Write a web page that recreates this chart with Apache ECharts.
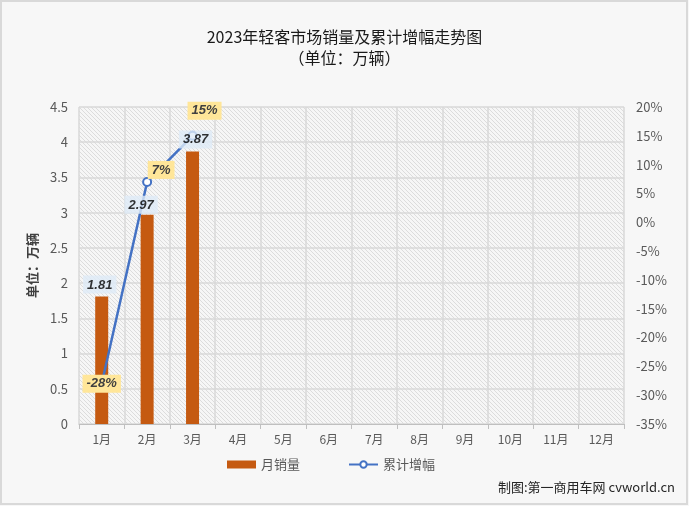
<!DOCTYPE html>
<html><head><meta charset="utf-8">
<script src="https://cdn.jsdelivr.net/npm/echarts@6/dist/echarts.min.js"></script>
<style>html,body{margin:0;padding:0;background:#fff;}#c{width:689px;height:506px;}</style>
</head><body><div id="c"></div>
<script>
var categories = ['1月','2月','3月','4月','5月','6月','7月','8月','9月','10月','11月','12月'];
var salesValues = [1.81, 2.97, 3.87];
var growthValues = [-28, 7, 15];
var leftTicks = {min: 0, max: 4.5, interval: 0.5};
var rightTicks = {min: -35, max: 20, interval: 5};

var pc = document.createElement('canvas');
pc.width = 4; pc.height = 4;
var g = pc.getContext('2d');
g.fillStyle = '#f6f6f6'; g.fillRect(0,0,4,4);
g.strokeStyle = '#dcdcdc'; g.lineWidth = 1;
g.beginPath(); g.moveTo(-1,-1); g.lineTo(5,5); g.moveTo(-1,3); g.lineTo(1,5); g.moveTo(3,-1); g.lineTo(5,1); g.stroke();

var barLabelOffsets = [[-2,0],[-6,2],[3,0]];
var lineLabelCfg = [
  {position:'inside', offset:[0,0]},
  {position:'inside', offset:[14,-12]},
  {position:'inside', offset:[12,-25]}
];

var labelBase = {fontStyle: 'italic', fontWeight: 'bold', fontSize: 13, fontFamily: 'Liberation Sans', padding: [3, 4, 2, 4]};

var chart = echarts.init(document.getElementById('c'));
chart.setOption({
  backgroundColor: '#f7f7f7',
  animation: false,
  title: {
    text: '2023年轻客市场销量及累计增幅走势图\n（单位：万辆）',
    left: 'center', top: 21,
    textStyle: {fontFamily: 'Noto Sans CJK SC', fontSize: 16, fontWeight: 'normal', color: '#1a1a1a', lineHeight: 21}
  },
  graphic: [
    {type:'rect', shape:{x:1,y:1,width:686,height:503}, style:{fill:'none', stroke:'#d9d9d9', lineWidth:2}},
    {type:'text', right: 14, top: 481, style:{text:'制图:第一商用车网 cvworld.cn', font:'13px "Noto Sans CJK SC"', fill:'#262626'}}
  ],
  legend: {
    bottom: 30, left: 222, itemGap: 48, itemWidth: 29, itemHeight: 8,
    textStyle: {fontFamily:'Noto Sans CJK SC', fontSize: 13, color:'#595959'},
    data: [{name:'月销量', icon:'rect'}, {name:'累计增幅'}]
  },
  grid: {left: 79, right: 65, top: 107, bottom: 82, show: true, borderWidth: 0,
    backgroundColor: {image: pc, repeat: 'repeat'}},
  xAxis: {
    type: 'category', data: categories,
    axisLine: {lineStyle: {color: '#bfbfbf'}},
    axisTick: {show: true, lineStyle: {color: '#bfbfbf'}},
    axisLabel: {color: '#595959', fontSize: 12, fontFamily: 'Noto Sans CJK SC', margin: 9},
    splitLine: {show: true, lineStyle: {color: '#d9d9d9', width: 1.5}}
  },
  yAxis: [{
    type: 'value', min: leftTicks.min, max: leftTicks.max, interval: leftTicks.interval,
    name: '单位：万辆', nameLocation: 'middle', nameGap: 34, nameRotate: 90,
    nameTextStyle: {fontFamily: 'Noto Sans CJK SC', fontSize: 13, fontWeight: 'bold', color: '#404040'},
    axisLabel: {color: '#595959', fontSize: 13, fontFamily: 'Noto Sans CJK SC', margin: 11},
    axisLine: {show: false}, axisTick: {show: false},
    splitLine: {show: true, lineStyle: {color: '#d9d9d9', width: 1.5}}
  }, {
    type: 'value', min: rightTicks.min, max: rightTicks.max, interval: rightTicks.interval,
    axisLabel: {formatter: '{value}%', color: '#595959', fontSize: 13, fontFamily: 'Noto Sans CJK SC', margin: 12},
    axisLine: {show: false}, axisTick: {show: false}, splitLine: {show: false}
  }],
  series: [{
    name: '月销量', type: 'bar', yAxisIndex: 0, barWidth: 13,
    itemStyle: {color: '#c55a11'},
    data: salesValues,
    z: 2
  }, {
    name: '累计增幅', type: 'line', yAxisIndex: 1,
    symbol: 'emptyCircle', symbolSize: 8,
    lineStyle: {color: '#4472c4', width: 2.5},
    itemStyle: {color: '#4472c4', borderWidth: 2},
    data: growthValues.map(function(v, i){
      return {value: v, label: lineLabelCfg[i]};
    }),
    label: Object.assign({show: true, formatter: '{c}%', color: '#404040', backgroundColor: '#ffe699'}, labelBase),
    z: 3
  }, {
    name: 'barLabels', type: 'scatter', yAxisIndex: 0, symbolSize: 0, silent: true,
    data: salesValues.map(function(v, i){
      return {value: [i, v], label: {offset: barLabelOffsets[i]}};
    }),
    label: Object.assign({show: true, position: 'top', distance: 3, formatter: function(p){ return p.value[1]; },
      color: '#000', backgroundColor: '#deebf7'}, labelBase),
    z: 10
  }]
});
</script></body></html>
